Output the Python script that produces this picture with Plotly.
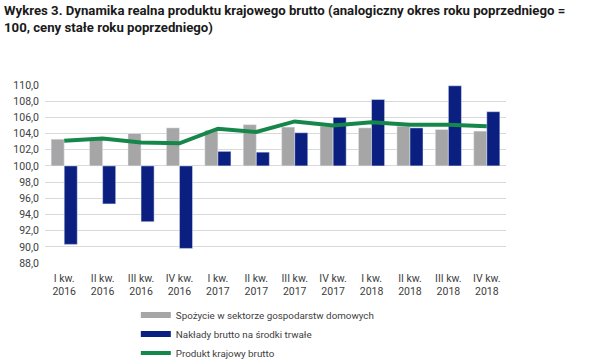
import plotly.graph_objects as go

categories = ["I kw.<br>2016", "II kw.<br>2016", "III kw.<br>2016", "IV kw.<br>2016",
              "I kw.<br>2017", "II kw.<br>2017", "III kw.<br>2017", "IV kw.<br>2017",
              "I kw.<br>2018", "II kw.<br>2018", "III kw.<br>2018", "IV kw.<br>2018"]
spozycie = [103.3, 103.4, 104.0, 104.7, 104.4, 105.1, 104.8, 104.9, 104.7, 104.9, 104.5, 104.3]
naklady = [90.3, 95.3, 93.1, 89.8, 101.8, 101.7, 104.1, 106.0, 108.2, 104.7, 109.9, 106.7]
pkb = [103.1, 103.4, 102.9, 102.8, 104.6, 104.2, 105.5, 105.0, 105.4, 105.1, 105.1, 104.9]
names = ["Spożycie w sektorze gospodarstw domowych", "Nakłady brutto na środki trwałe",
         "Produkt krajowy brutto"]
tick_vals = [88, 90, 92, 94, 96, 98, 100, 102, 104, 106, 108, 110]
base_value = 100
title_text = ("<b>Wykres 3. Dynamika realna produktu krajowego brutto (analogiczny okres roku poprzedniego =<br>"
              "100, ceny stałe roku poprzedniego)</b>")

GRAY = "#a6a6a6"
NAVY = "#0b1f80"
GREEN = "#16874a"
FONT = "Roboto, sans-serif"

fig = go.Figure()
fig.add_trace(go.Bar(x=categories, y=[v - base_value for v in spozycie], base=base_value,
                     marker_color=GRAY, name=names[0], showlegend=False))
fig.add_trace(go.Bar(x=categories, y=[v - base_value for v in naklady], base=base_value,
                     marker_color=NAVY, name=names[1], showlegend=False))
fig.add_trace(go.Scatter(x=[None], y=[None], mode="lines", line=dict(color=GRAY, width=6),
                         name=names[0]))
fig.add_trace(go.Scatter(x=[None], y=[None], mode="lines", line=dict(color=NAVY, width=6),
                         name=names[1]))
fig.add_trace(go.Scatter(x=categories, y=pkb, mode="lines", line=dict(color=GREEN, width=4),
                         name=names[2]))

fig.add_annotation(text=title_text, xref="paper", yref="paper", x=-0.0933, y=1.47,
                   xanchor="left", yanchor="top", align="left", showarrow=False,
                   font=dict(family=FONT, size=13.2, color="#1a1a1a"))

fig.update_layout(
    width=601, height=360,
    margin=dict(l=45, r=95, t=85, b=97),
    plot_bgcolor="white", paper_bgcolor="white",
    separators=", ",
    barmode="group", bargap=0.32, bargroupgap=0,
    font=dict(family=FONT, size=11, color="#404040"),
    xaxis=dict(showgrid=False, showline=False, ticks="", automargin=False,
               ticklabelstandoff=7, tickfont=dict(size=10.5, color="#404040")),
    yaxis=dict(range=[88, 110], tickvals=tick_vals, tickformat=".1f", showgrid=True,
               gridcolor="#d9d9d9", gridwidth=1, zeroline=False, showline=False,
               ticks="", automargin=False, ticklabelstandoff=5,
               tickfont=dict(size=10.5, color="#404040")),
    legend=dict(orientation="v", x=0.197, xanchor="left", xref="paper",
                y=0.165, yanchor="top", yref="container",
                font=dict(size=9.8, color="#404040"), itemwidth=30, tracegroupgap=0,
                bgcolor="rgba(0,0,0,0)"),
    showlegend=True,
)

fig.write_html("out.html", config={"displayModeBar": False},
               post_script="document.body.style.margin='0';")
